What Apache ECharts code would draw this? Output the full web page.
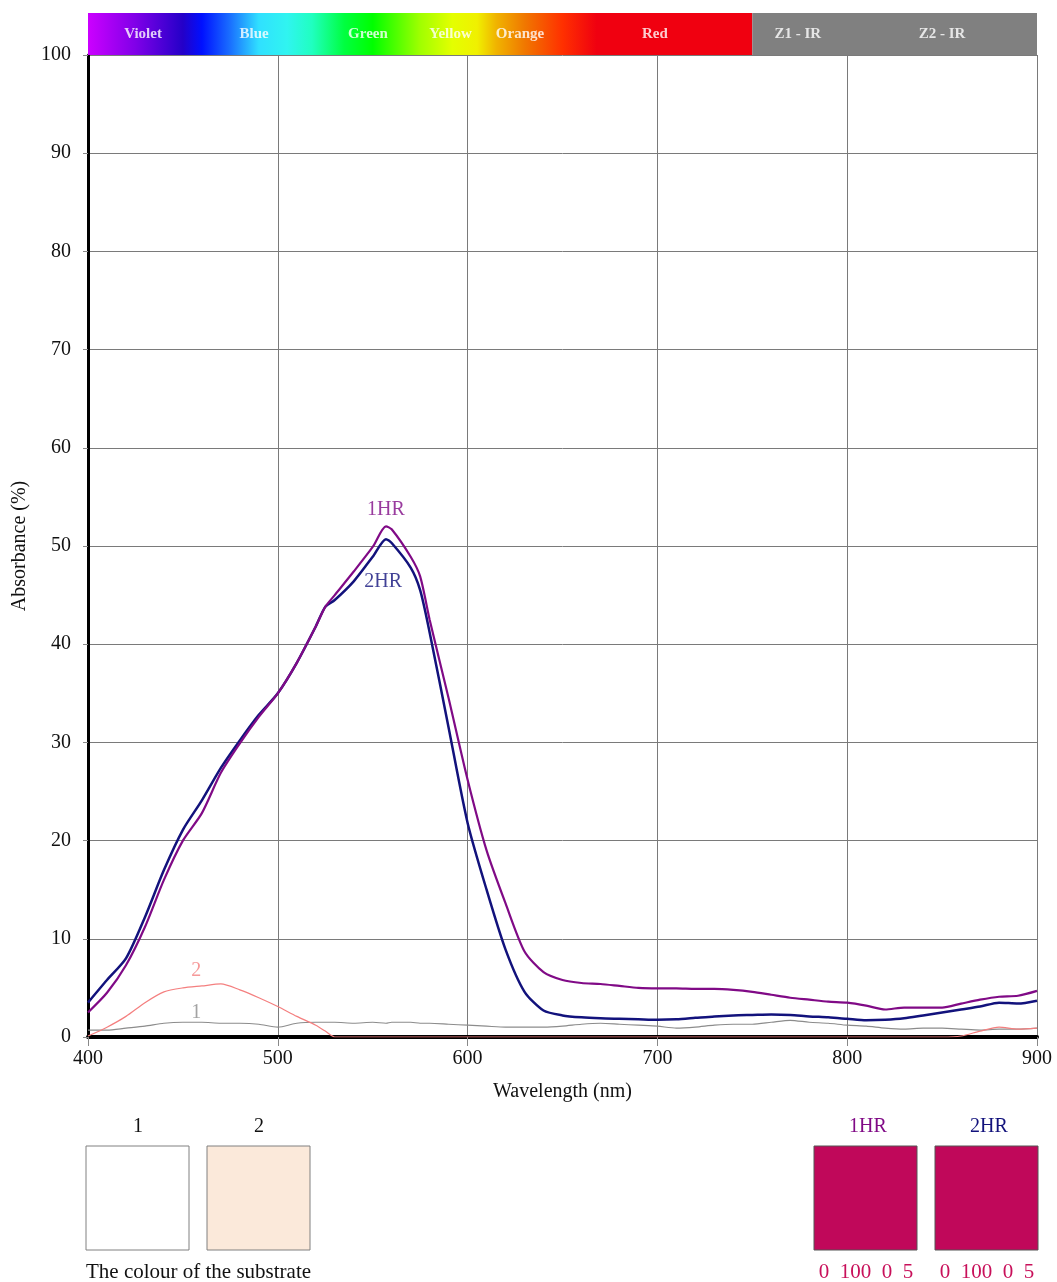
<!DOCTYPE html>
<html>
<head>
<meta charset="utf-8">
<script src="https://cdn.jsdelivr.net/npm/echarts@6/dist/echarts.min.js"></script>
<style>
html, body { margin: 0; padding: 0; background: #fff; }
#chart { width: 1057px; height: 1282px; }
</style>
</head>
<body>
<div id="chart"></div>
<script>
// wavelengths (nm) shared by all curves
var wavelengths = [400, 410, 420, 430, 440, 450, 460, 470, 480, 490, 500, 510, 520, 525, 530, 540, 550, 557, 560, 570, 575, 580, 590,
  600, 610, 620, 630, 640, 650, 660, 670, 680, 690, 700, 710, 720, 730, 740, 750, 760, 770, 780, 790, 800,
  810, 820, 830, 840, 850, 860, 870, 880, 890, 900]

var hr1 = [2.5, 4.5, 7.3, 11.2, 16.0, 20.0, 22.8, 26.9, 29.9, 32.6, 35.0, 38.1, 41.8, 43.8, 45.0, 47.4, 49.9, 52.0, 51.7, 48.9, 46.9, 42.5, 34.5,
  26.2, 19.0, 13.6, 8.7, 6.6, 5.8, 5.5, 5.4, 5.2, 5.0, 4.95, 4.95, 4.9, 4.9, 4.8, 4.6, 4.3, 4.0, 3.8, 3.6, 3.5,
  3.2, 2.8, 3.0, 3.0, 3.0, 3.4, 3.8, 4.1, 4.2, 4.7]

var hr2 = [3.5, 5.8, 8.0, 12.2, 17.0, 21.1, 24.1, 27.4, 30.2, 32.8, 35.0, 38.1, 41.8, 43.8, 44.5, 46.4, 48.9, 50.7, 50.3, 47.8, 45.5, 41.2, 31.5,
  21.8, 15.0, 8.9, 4.6, 2.7, 2.2, 2.0, 1.9, 1.85, 1.8, 1.75, 1.8, 1.95, 2.1, 2.2, 2.25, 2.3, 2.25, 2.1, 2.0, 1.85,
  1.7, 1.75, 1.9, 2.2, 2.5, 2.8, 3.1, 3.5, 3.4, 3.7]

var sub1 = [0.7, 0.7, 0.9, 1.1, 1.4, 1.5, 1.5, 1.4, 1.4, 1.3, 1.0, 1.4, 1.5, 1.5, 1.5, 1.4, 1.5, 1.4, 1.5, 1.5, 1.4, 1.4, 1.3,
  1.2, 1.1, 1.0, 1.0, 1.0, 1.1, 1.3, 1.4, 1.3, 1.2, 1.1, 0.9, 1.0, 1.2, 1.3, 1.3, 1.5, 1.7, 1.5, 1.4, 1.2,
  1.1, 0.9, 0.8, 0.9, 0.9, 0.8, 0.7, 0.8, 0.8, 0.9]

var sub2 = [0.1, 1.0, 2.1, 3.5, 4.6, 5.0, 5.2, 5.4, 4.8, 4.0, 3.1, 2.1, 1.2, 0.6, 0, 0, 0, 0, 0, 0, 0, 0, 0,
  0, 0, 0, 0, 0, 0, 0, 0, 0, 0, 0, 0, 0, 0, 0, 0, 0, 0, 0, 0, 0,
  0, 0, 0, 0, 0, 0.1, 0.6, 1.0, 0.8, 0.9]

// curve labels [name, nm, value]
var curveLabels = [['1HR', 557, 53.7], ['2HR', 555.5, 46.4], ['2', 457, 6.7], ['1', 457, 2.5]]

// spectrum band on top
var spectrumStops = [[400, '#cc00ff'], [425, '#8000e8'], [450, '#2400c8'], [460, '#0010ff'], [475, '#1a70ff'],
  [490, '#30e0ff'], [505, '#30f4f0'], [518, '#20ffc0'], [535, '#00ff40'], [550, '#00ff00'], [575, '#a0ff00'],
  [592, '#e4ff00'], [605, '#f0f000'], [615, '#f0b400'], [630, '#f07800'], [650, '#ff3000'], [668, '#f00010'], [750, '#f00010']]
var bands = [[400, 750, 'visible'], [750, 900, 'ir']]
var bandLabels = [['Violet', 429], ['Blue', 487.5], ['Green', 547.5], ['Yellow', 591], ['Orange', 627.6], ['Red', 698.7], ['Z1 - IR', 774], ['Z2 - IR', 850]]

// swatches under the chart
var substrateNames = ['1', '2']
var substrateColours = ['#ffffff', '#fbe9da']
var sampleNames = ['1HR', '2HR']
var sampleColours = ['#c0085a', '#c0085a']
var sampleCodes = ['0  100  0  5', '0  100  0  5']

var serif = '"Liberation Serif", "Times New Roman", serif'
var colours = { '1HR': '#800a86', '2HR': '#12127c', '1': '#8c8c8c', '2': '#f47f7f' }

function pairs(vals) {
  return wavelengths.map(function (w, i) { return [w, vals[i]] })
}

var chart = echarts.init(document.getElementById('chart'))

var graphic = []
substrateNames.forEach(function (n, i) {
  var x = 86 + i * 121
  graphic.push({ type: 'rect', shape: { x: x, y: 1146, width: 103, height: 104 }, style: { fill: substrateColours[i], stroke: '#808080', lineWidth: 1 } })
  graphic.push({ type: 'text', x: x + 52, y: 1127, style: { text: n, font: '20px ' + serif, fill: '#111', align: 'center', verticalAlign: 'middle' } })
})
graphic.push({ type: 'text', x: 86, y: 1272, style: { text: 'The colour of the substrate', font: '21px ' + serif, fill: '#111', align: 'left', verticalAlign: 'middle' } })
sampleNames.forEach(function (n, i) {
  var x = 814 + i * 121
  graphic.push({ type: 'rect', shape: { x: x, y: 1146, width: 103, height: 104 }, style: { fill: sampleColours[i], stroke: '#555', lineWidth: 1 } })
  graphic.push({ type: 'text', x: x + 54, y: 1127, style: { text: n, font: '20px ' + serif, fill: colours[n], align: 'center', verticalAlign: 'middle' } })
  graphic.push({ type: 'text', x: x + 52, y: 1272, style: { text: sampleCodes[i], font: '21px ' + serif, fill: '#c8105a', align: 'center', verticalAlign: 'middle' } })
})

function lineSeries(name, vals, width, z) {
  return {
    name: name,
    type: 'line',
    data: pairs(vals),
    smooth: 0.25,
    showSymbol: false,
    z: z,
    lineStyle: { color: colours[name], width: width },
    emphasis: { disabled: true }
  }
}

var option = {
  animation: false,
  backgroundColor: '#fff',
  textStyle: { fontFamily: serif },
  graphic: graphic,
  grid: [
    { left: 88, right: 20, top: 55, bottom: 245 },
    { left: 88, right: 20, top: 13, height: 42 }
  ],
  xAxis: [
    {
      type: 'value', min: 400, max: 900, interval: 100,
      name: 'Wavelength (nm)', nameLocation: 'middle', nameGap: 45,
      nameTextStyle: { fontSize: 20, color: '#111', fontFamily: serif },
      axisLine: { lineStyle: { color: '#000', width: 4 } },
      axisTick: { show: true, length: 9, lineStyle: { color: '#888', width: 1 } },
      axisLabel: { fontSize: 20, color: '#111', margin: 12, fontFamily: serif },
      splitLine: { show: true, lineStyle: { color: '#7a7a7a', width: 1 } }
    },
    { gridIndex: 1, type: 'value', min: 400, max: 900, show: false }
  ],
  yAxis: [
    {
      type: 'value', min: 0, max: 100, interval: 10,
      name: 'Absorbance (%)', nameLocation: 'middle', nameGap: 56,
      nameTextStyle: { fontSize: 20, color: '#111', fontFamily: serif },
      axisLine: { show: true, lineStyle: { color: '#000', width: 3 } },
      axisTick: { show: true, length: 5, lineStyle: { color: '#888', width: 1 } },
      axisLabel: { fontSize: 20, color: '#111', margin: 17, fontFamily: serif },
      splitLine: { show: true, lineStyle: { color: '#7a7a7a', width: 1 } }
    },
    { gridIndex: 1, type: 'value', min: 0, max: 1, show: false }
  ],
  series: [
    lineSeries('1', sub1, 1.2, 2),
    lineSeries('2', sub2, 1.2, 3),
    lineSeries('2HR', hr2, 2.5, 4),
    lineSeries('1HR', hr1, 2.2, 5),
    {
      type: 'scatter',
      data: curveLabels.map(function (d) {
        return { value: [d[1], d[2], d[0]], label: { color: colours[d[0]] } }
      }),
      symbolSize: 0,
      z: 6,
      silent: true,
      label: {
        show: true, position: 'inside',
        formatter: function (p) { return p.value[2] },
        fontSize: 20, fontFamily: serif
      }
    },
    {
      type: 'custom',
      xAxisIndex: 1, yAxisIndex: 1,
      data: bands,
      silent: true,
      renderItem: function (params, api) {
        var p0 = api.coord([api.value(0), 1])
        var p1 = api.coord([api.value(1), 0])
        var band = bands[params.dataIndex]
        var lo = band[0], hi = band[1]
        var fill = band[2] === 'ir' ? '#808080' : new echarts.graphic.LinearGradient(0, 0, 1, 0, spectrumStops.map(function (s) {
          return { offset: (s[0] - lo) / (hi - lo), color: s[1] }
        }))
        return { type: 'rect', shape: { x: p0[0], y: p0[1], width: p1[0] - p0[0], height: p1[1] - p0[1] }, style: { fill: fill } }
      }
    },
    {
      type: 'scatter',
      xAxisIndex: 1, yAxisIndex: 1,
      data: bandLabels.map(function (b) { return [b[1], 0.5, b[0]] }),
      symbolSize: 0,
      silent: true,
      z: 10,
      label: {
        show: true, position: 'inside',
        formatter: function (p) { return p.value[2] },
        color: '#fff', fontWeight: 'bold', fontSize: 15, fontFamily: serif
      }
    }
  ]
}

chart.setOption(option)
</script>
</body>
</html>
